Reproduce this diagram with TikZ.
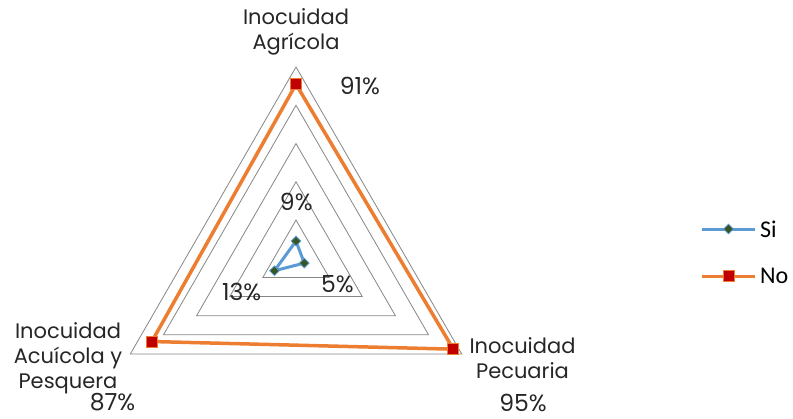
\documentclass[tikz,border=0pt]{standalone}
\usepackage{fontspec}
\setmainfont{Poppins}
\newfontfamily\legfont{Carlito}
\usetikzlibrary{calc,shapes.geometric}
\definecolor{gridgray}{RGB}{134,134,134}
\definecolor{sicolor}{RGB}{91,155,213}
\definecolor{nocolor}{RGB}{237,125,49}
\definecolor{dmfill}{RGB}{55,86,35}
\definecolor{sqfill}{RGB}{192,0,0}
\begin{document}
\begin{tikzpicture}[x=1pt,y=-1pt,
  gridline/.style={draw=gridgray,line width=0.8pt},
  siline/.style={draw=sicolor,line width=3pt,line join=round},
  noline/.style={draw=nocolor,line width=3.5pt,line join=round},
  simark/.style={diamond,draw=sicolor,line width=0.8pt,fill=dmfill,minimum size=10pt,inner sep=0pt},
  nomark/.style={rectangle,draw=nocolor,line width=0.8pt,fill=sqfill,minimum size=11pt,inner sep=0pt},
  lbl/.style={font=\fontsize{21}{25}\selectfont,align=center,text=black!85,inner sep=0pt},
  pct/.style={font=\fontsize{23.5}{25}\selectfont,text=black!85,inner sep=0pt},
  leg/.style={font=\legfont\fontsize{24}{26}\selectfont,anchor=west,inner sep=0pt}]
\useasboundingbox (0,0) rectangle (793,418);
\coordinate (O) at (296,258.3);
\def\R{191.3}
% grid
\foreach \k in {1,...,5}{
  \draw[gridline] ($(O)+(-90:\k*38.26)$) -- ($(O)+(30:\k*38.26)$) -- ($(O)+(150:\k*38.26)$) -- cycle;
}
% data coordinates
\coordinate (sA) at ($(O)+(-90:0.09*\R)$);
\coordinate (sP) at ($(O)+(30:0.05*\R)$);
\coordinate (sQ) at ($(O)+(150:0.13*\R)$);
\coordinate (nA) at ($(O)+(-90:0.91*\R)$);
\coordinate (nP) at ($(O)+(30:0.95*\R)$);
\coordinate (nQ) at ($(O)+(150:0.87*\R)$);
\draw[noline] (nA) -- (nP) -- (nQ) -- cycle;
\draw[siline] (sA) -- (sP) -- (sQ) -- cycle;
\node[nomark] (mnA) at (nA) {};
\node[nomark] (mnP) at (nP) {};
\node[nomark] (mnQ) at (nQ) {};
\node[simark] (msA) at (sA) {};
\node[simark] (msP) at (sP) {};
\node[simark] (msQ) at (sQ) {};
% axis labels
\node[lbl] (lA) at (296,31.5) {Inocuidad\\Agrícola};
\node[lbl] (lP) at (522.5,358) {Inocuidad\\Pecuaria};
\node[lbl] (lQ) at (68,358) {Inocuidad\\Acuícola y\\Pesquera};
% percentage labels
\node[pct] (p91) at (360,85.7) {91\%};
\node[pct] (p95) at (523,402.5) {95\%};
\node[pct] (p87) at (112.5,402.5) {87\%};
\node[pct] (p9) at (296.3,202.3) {9\%};
\node[pct] (p5) at (337.5,284) {5\%};
\node[pct] (p13) at (241.7,291.5) {13\%};
% legend
\coordinate (l1a) at (702,229);
\coordinate (l1b) at (755,229);
\coordinate (l2a) at (702,276);
\coordinate (l2b) at (755,276);
\draw[siline] (l1a) -- (l1b);
\draw[noline,line width=3pt] (l2a) -- (l2b);
\node[simark] (lgs) at ($(l1a)!0.5!(l1b)$) {};
\node[nomark] (lgn) at ($(l2a)!0.5!(l2b)$) {};
\node[leg] (ts) at (760,229) {Si};
\node[leg] (tn) at (760,276) {No};
\end{tikzpicture}
\end{document}
